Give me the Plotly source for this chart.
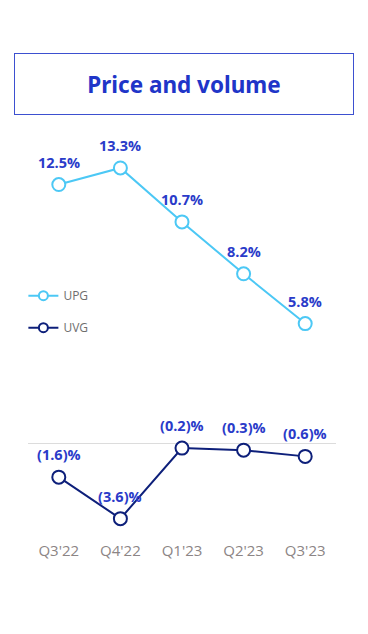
import plotly.graph_objects as go

quarters = ["Q3'22", "Q4'22", "Q1'23", "Q2'23", "Q3'23"]
upg = [12.5, 13.3, 10.7, 8.2, 5.8]
uvg = [-1.6, -3.6, -0.2, -0.3, -0.6]


def fmt(v):
    return f"({abs(v):.1f})%" if v < 0 else f"{v:.1f}%"


LABEL_COLOR = "#2a3bc9"
UPG_COLOR = "#4cc8f5"
UVG_COLOR = "#0d1f7a"

fig = go.Figure()
for name, vals, col, grp in [("UPG", upg, UPG_COLOR, "a"), ("UVG", uvg, UVG_COLOR, "b")]:
    fig.add_trace(go.Scatter(
        x=quarters, y=vals, name=name, mode="lines+markers",
        line=dict(color=col, width=2),
        marker=dict(size=13, color="white", line=dict(color=col, width=2)),
        showlegend=False, cliponaxis=False, hoverinfo="skip",
    ))
    # legend-only entry with smaller symbol
    fig.add_trace(go.Scatter(
        x=[None], y=[None], name=name, mode="lines+markers",
        line=dict(color=col, width=2),
        marker=dict(size=9, color="white", line=dict(color=col, width=2)),
        legendgroup=grp, showlegend=True,
    ))
    for q, v in zip(quarters, vals):
        fig.add_annotation(
            x=q, y=v, text=f"<b>{fmt(v)}</b>", showarrow=False,
            yanchor="bottom", yshift=11,
            font=dict(family="Open Sans", size=14.5, color=LABEL_COLOR),
        )

fig.add_annotation(
    text="<b>Price and volume</b>", xref="paper", yref="paper",
    x=0.506, y=1.112, xanchor="center", yanchor="middle",
    showarrow=False, width=336, height=58,
    bordercolor="#3d50d0", borderwidth=1,
    font=dict(family="Noto Sans", size=22.5, color="#2035c8"),
)

fig.update_layout(
    width=368, height=634,
    margin=dict(l=28, r=32, t=130, b=94, autoexpand=False),
    plot_bgcolor="white", paper_bgcolor="white",
    showlegend=True,
    legend=dict(x=-0.015, y=0.557, xanchor="left", yanchor="middle",
                font=dict(family="Open Sans", size=12, color="#6e6e6e"),
                tracegroupgap=13, bgcolor="rgba(0,0,0,0)"),
    xaxis=dict(range=[-0.5, 4.5], showgrid=False, zeroline=False, showline=False,
               ticks="", tickfont=dict(family="Open Sans", size=15, color="#8c8585")),
    yaxis=dict(range=[-4.63, 15.13], showgrid=False, zeroline=True,
               zerolinecolor="#dcdcdc", zerolinewidth=1, showticklabels=False,
               ticks=""),
)

fig.write_html("out.html", config={"displayModeBar": False},
               post_script="document.body.style.margin='0';")
